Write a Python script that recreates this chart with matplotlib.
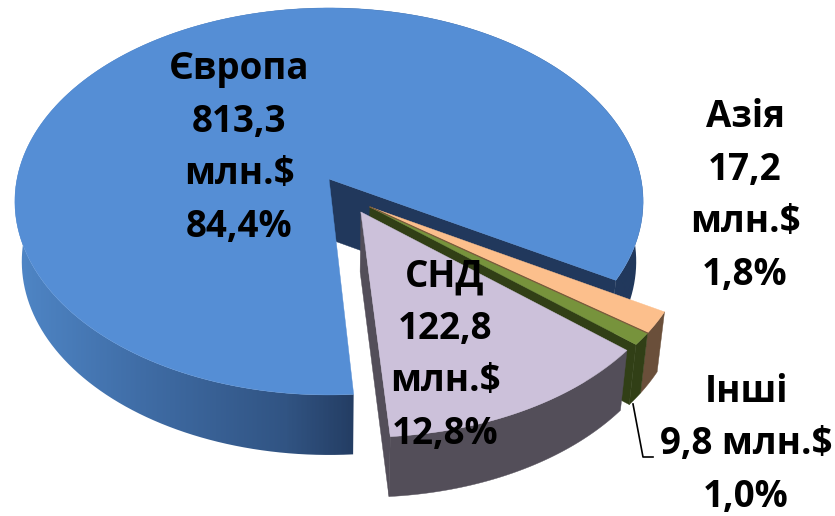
import numpy as np
import matplotlib
matplotlib.use('Agg')
import matplotlib.pyplot as plt
from matplotlib.colors import LinearSegmentedColormap
from matplotlib.patches import Polygon

regions = ['Європа', 'СНД', 'Інші', 'Азія']
values = [813.3, 122.8, 9.8, 17.2]
percents = ['84,4%', '12,8%', '1,0%', '1,8%']
amounts = ['813,3\nмлн.$', '122,8\nмлн.$', '9,8 млн.$', '17,2\nмлн.$']

top_colors = ['#558ED5', '#CCC1DA', '#77933C', '#FCBF8C']
wall_colors = ['#21385C', '#534E59', '#313F16', '#6A4F3A']
# how far each slice is pulled out of the pie, in disc units
offsets = [(0, 0), (0.10, -0.169), (0.129, -0.144), (0.129, -0.144)]
start_angle = -30

# pie projection, found by measuring the picture
cx, cy = 329, 179
rx, ry = 312, 190.9
tilt = 0.116
depth = 60
lean = 0.022


def project(u, v, z=0):
    w = 1 + tilt * v
    x = cx + rx * u / w * (1 - lean * z)
    y = cy - ry * v / w + depth * z
    return np.column_stack([x, y])


def rim(t1, t2, off, z=0):
    t = np.radians(np.linspace(t1, t2, 200))
    return project(off[0] + np.cos(t), off[1] + np.sin(t), z)


def apex(off, z=0):
    return project(np.array([off[0]]), np.array([off[1]]), z)


def outer_wall(t1, t2, off):
    return np.vstack([rim(t1, t2, off), rim(t1, t2, off, 1)[::-1]])


def radial_wall(t, off):
    edge = np.array([t])
    p = project(off[0] + np.cos(np.radians(edge)), off[1] + np.sin(np.radians(edge)))
    q = project(off[0] + np.cos(np.radians(edge)), off[1] + np.sin(np.radians(edge)), 1)
    return np.vstack([apex(off), p, q, apex(off, 1)])


def add_poly(ax, pts, color, z):
    ax.add_patch(Polygon(pts, closed=True, facecolor=color, edgecolor=color, linewidth=0.3, zorder=z))


fig = plt.figure(figsize=(8.35, 5.16), dpi=100)
ax = fig.add_axes([0, 0, 1, 1])

edges = start_angle + np.cumsum([0] + values) / sum(values) * 360
t = [(edges[i], edges[i + 1]) for i in range(len(values))]

# Europe side, shaded from left to right
side_cmap = LinearSegmentedColormap.from_list('side', [
    (0.0, '#4F86C6'), (0.2, '#3F6CA5'), (0.42, '#315483'), (0.55, '#21385C'), (1.0, '#21385C')])
img = ax.imshow(np.linspace(0, 1, 400).reshape(1, -1), cmap=side_cmap, extent=(15, 660, 480, 0),
                aspect='auto', zorder=1)
wall = Polygon(outer_wall(t[0][0], t[0][1], offsets[0]), closed=True, transform=ax.transData)
img.set_clip_path(wall)
add_poly(ax, radial_wall(t[0][0], offsets[0]), wall_colors[0], 2)
add_poly(ax, rim(t[0][0], t[0][1], offsets[0]).tolist() + apex(offsets[0]).tolist(), top_colors[0], 3)

# small exploded slices, back to front
add_poly(ax, outer_wall(t[3][0], t[3][1], offsets[3]), wall_colors[3], 4)
add_poly(ax, outer_wall(t[2][0], t[2][1], offsets[2]), wall_colors[2], 5)
add_poly(ax, radial_wall(t[2][0], offsets[2]), wall_colors[2], 5)
add_poly(ax, np.vstack([apex(offsets[3]), rim(t[3][0], t[3][1], offsets[3])]), top_colors[3], 6)
add_poly(ax, np.vstack([apex(offsets[2]), rim(t[2][0], t[2][1], offsets[2])]), top_colors[2], 6)
seam = np.vstack([apex(offsets[3]), rim(t[3][0], t[3][0], offsets[3])[:1]])
ax.plot(seam[:, 0], seam[:, 1], color='#7A5A3C', lw=0.9, zorder=7)

add_poly(ax, outer_wall(t[1][0], t[1][1], offsets[1]), wall_colors[1], 8)
add_poly(ax, radial_wall(t[1][0], offsets[1]), wall_colors[1], 8)
add_poly(ax, np.vstack([apex(offsets[1]), rim(t[1][0], t[1][1], offsets[1])]), top_colors[1], 9)

# leader line for the small slice
ax.plot([633, 643, 653], [404, 457, 457], color='black', lw=1.2, zorder=10)

font = dict(family='Open Sans', fontsize=26.5, fontweight='bold', color='black',
            ha='center', va='center', linespacing=1.5, zorder=11)
label_pos = [(239, 148), (445, 355), (746, 444), (745, 196)]
for i in range(len(regions)):
    ax.text(label_pos[i][0], label_pos[i][1], regions[i] + '\n' + amounts[i] + '\n' + percents[i], **font)

ax.set_xlim(0, 835)
ax.set_ylim(516, 0)
ax.axis('off')

fig.savefig('out.png', dpi=100)
